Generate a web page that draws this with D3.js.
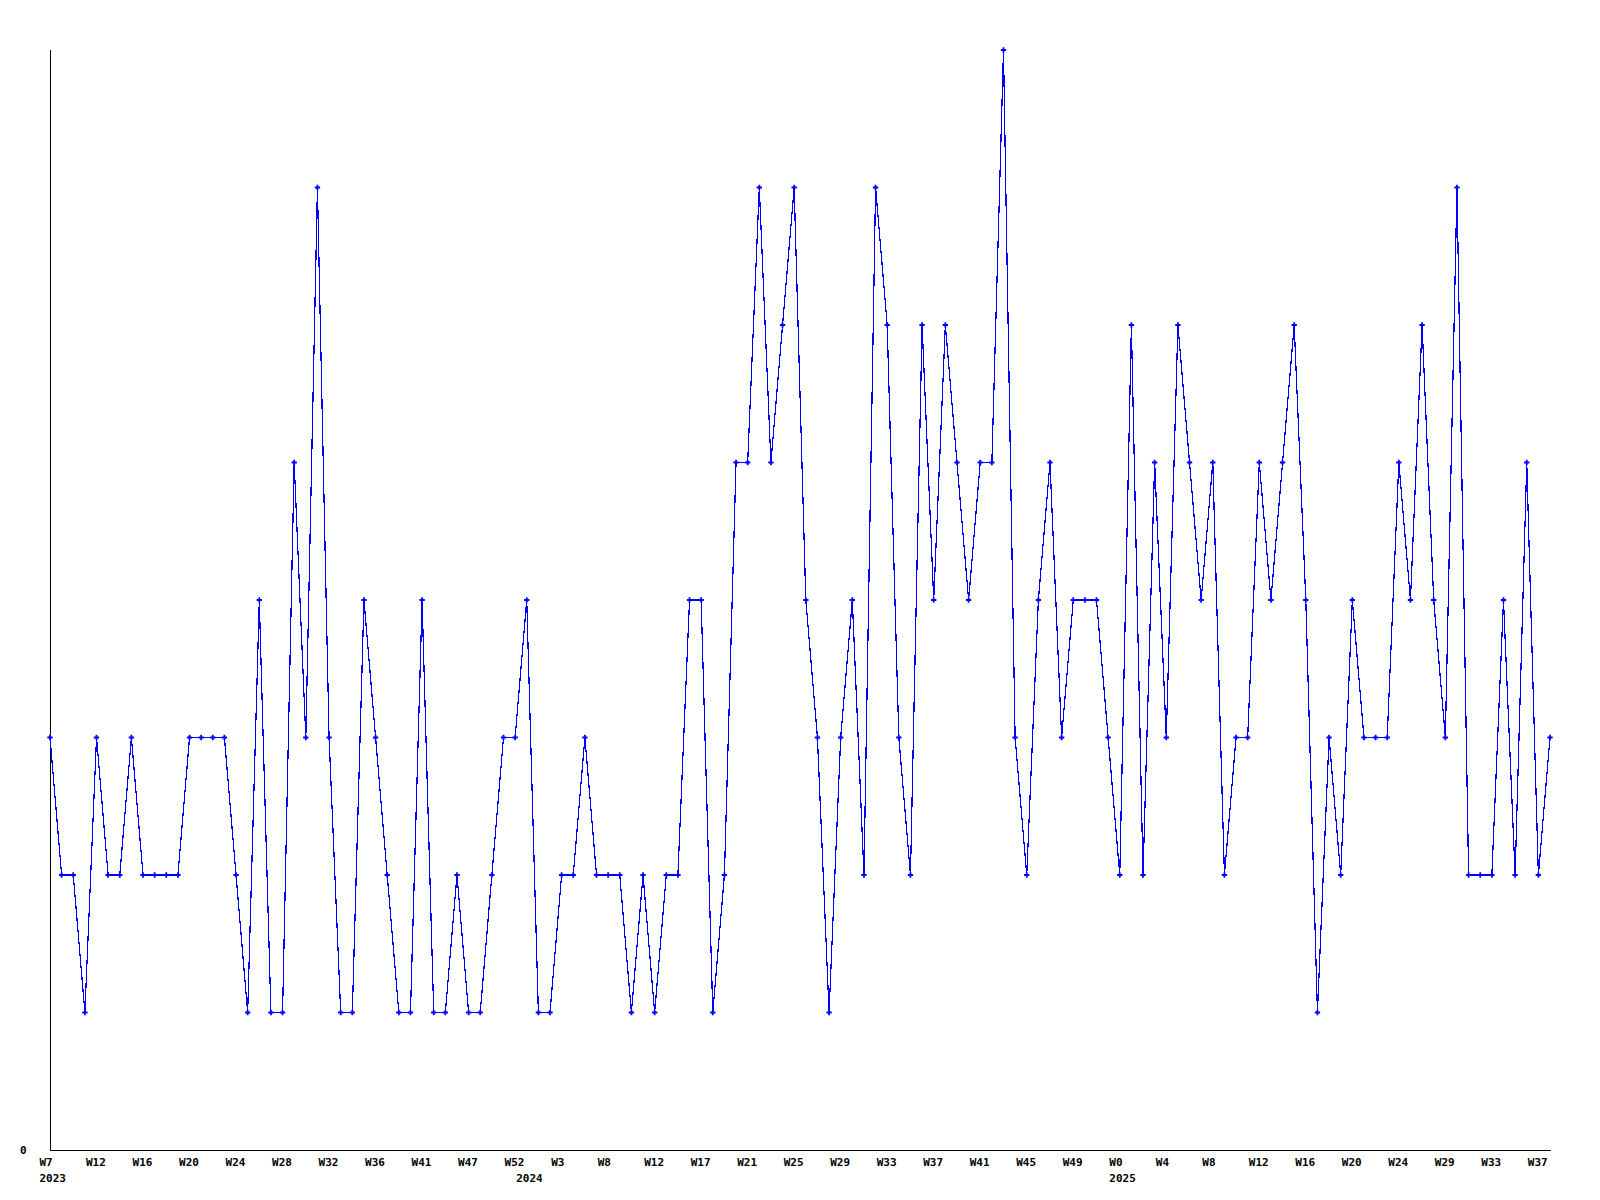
<!DOCTYPE html>
<html>
<head>
<meta charset="utf-8">
<script src="https://cdn.jsdelivr.net/npm/d3@7"></script>
<style>
  body { margin: 0; background: #fff; }
  text { font-family: "DejaVu Sans Mono", monospace; font-weight: bold; font-size: 11px; fill: #000; }
</style>
</head>
<body>
<svg id="chart" width="1600" height="1200"></svg>
<script>
  // weekly counts, one per point
  const values = [
    3, 2, 2, 1, 3, 2, 2, 3, 2, 2, 2, 2, 3, 3, 3, 3, 2, 1, 4, 1,
    1, 5, 3, 7, 3, 1, 1, 4, 3, 2, 1, 1, 4, 1, 1, 2, 1, 1, 2, 3,
    3, 4, 1, 1, 2, 2, 3, 2, 2, 2, 1, 2, 1, 2, 2, 4, 4, 1, 2, 5,
    5, 7, 5, 6, 7, 4, 3, 1, 3, 4, 2, 7, 6, 3, 2, 6, 4, 6, 5, 4,
    5, 5, 8, 3, 2, 4, 5, 3, 4, 4, 4, 3, 2, 6, 2, 5, 3, 6, 5, 4,
    5, 2, 3, 3, 5, 4, 5, 6, 4, 1, 3, 2, 4, 3, 3, 3, 5, 4, 6, 4,
    3, 7, 2, 2, 2, 4, 2, 5, 2, 3
  ];

  // week labels, shown on every 4th point
  const weekLabels = [
    "W7", "W12", "W16", "W20", "W24", "W28", "W32", "W36", "W41", "W47", "W52",
    "W3", "W8", "W12", "W17", "W21", "W25", "W29", "W33", "W37", "W41", "W45", "W49",
    "W0", "W4", "W8", "W12", "W16", "W20", "W24", "W29", "W33", "W37"
  ];
  const labelStep = 4;

  const years = ["2023", "2024", "2025"];
  const yearStart = [0, 41, 92];

  const svg = d3.select("#chart");
  const plot = { left: 50, right: 1550, top: 50, bottom: 1150 };

  const x = d3.scalePoint()
    .domain(d3.range(values.length))
    .range([plot.left, plot.right]);

  const y = d3.scaleLinear()
    .domain([0, d3.max(values)])
    .range([plot.bottom, plot.top]);

  // axes lines
  svg.append("line")
    .attr("x1", plot.left + 0.5).attr("x2", plot.left + 0.5)
    .attr("y1", plot.top).attr("y2", plot.bottom + 0.5)
    .attr("stroke", "#000");
  svg.append("line")
    .attr("x1", plot.left).attr("x2", plot.right + 1)
    .attr("y1", plot.bottom + 0.5).attr("y2", plot.bottom + 0.5)
    .attr("stroke", "#000");

  svg.append("text")
    .attr("x", 20)
    .attr("y", y(0) + 4)
    .text("0");

  svg.selectAll(".wk")
    .data(weekLabels)
    .enter()
    .append("text")
    .attr("class", "wk")
    .attr("x", (d, i) => x(i * labelStep) - 10.5)
    .attr("y", 1166)
    .text(d => d);

  svg.selectAll(".yr")
    .data(years)
    .enter()
    .append("text")
    .attr("class", "yr")
    .attr("x", (d, i) => x(yearStart[i]) - 10.5)
    .attr("y", 1182)
    .text(d => d);

  const line = d3.line()
    .x((d, i) => x(i))
    .y(d => y(d));

  svg.append("path")
    .datum(values)
    .attr("fill", "none")
    .attr("stroke", "#0000ff")
    .attr("stroke-width", 1.2)
    .attr("shape-rendering", "crispEdges")
    .attr("d", line);

  svg.selectAll(".pt")
    .data(values)
    .enter()
    .append("path")
    .attr("class", "pt")
    .attr("transform", (d, i) => `translate(${x(i)},${y(d)})`)
    .attr("d", d3.symbol(d3.symbolCross, 16))
    .attr("fill", "#0000ff");
</script>
</body>
</html>
